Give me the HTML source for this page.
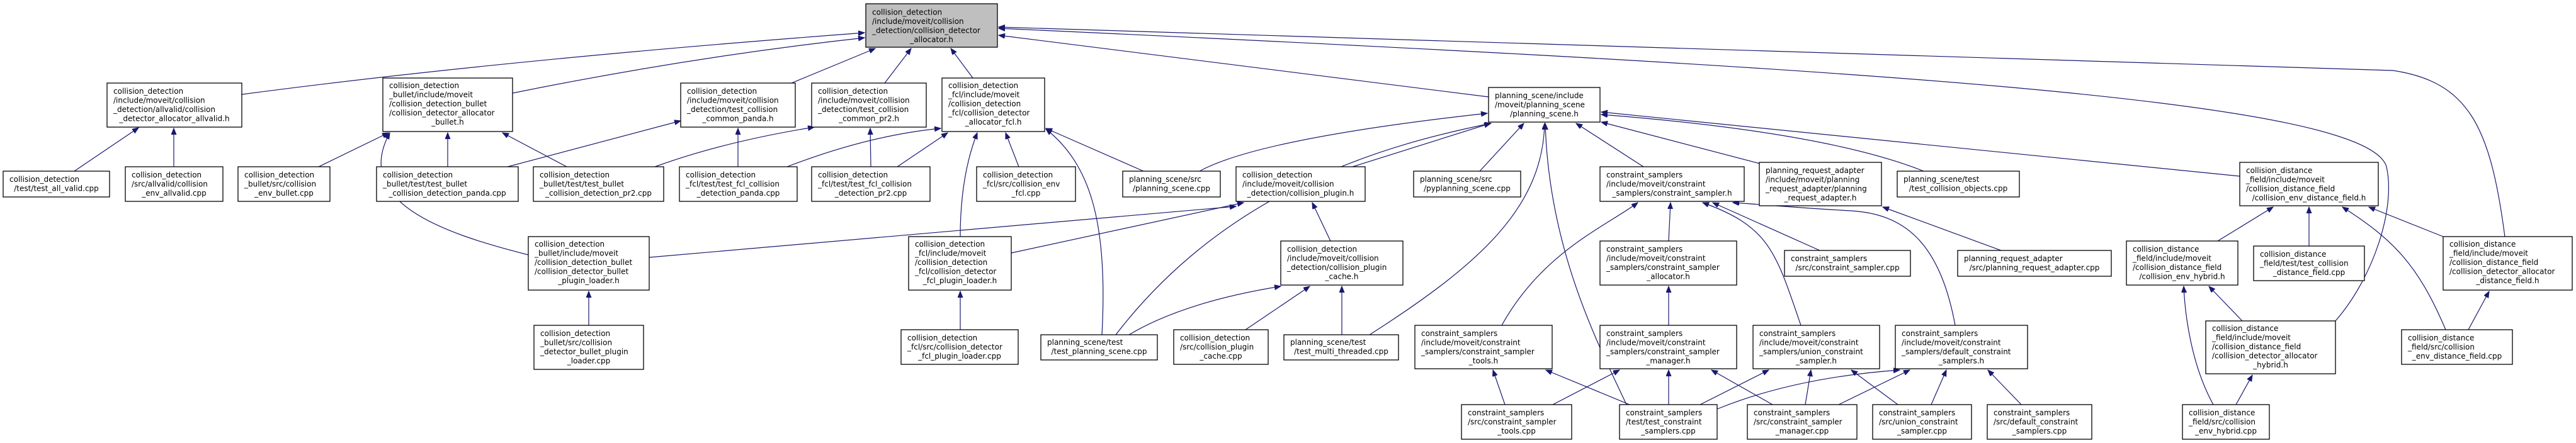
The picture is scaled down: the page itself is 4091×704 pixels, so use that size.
<!DOCTYPE html>
<html><head><meta charset="utf-8"><style>
html,body{margin:0;padding:0;background:#fff;}
svg{display:block;}
text{font-family:"DejaVu Sans","Liberation Sans",sans-serif;font-size:12px;fill:#000;text-anchor:start;}
tspan.c{text-anchor:middle;}
rect{fill:#fff;stroke:#000;stroke-width:1.3;}
path.e{fill:none;stroke:#191970;stroke-width:1.2;marker-end:url(#a);}
</style></head><body>
<svg width="4091" height="704" viewBox="0 0 4091 704" xmlns="http://www.w3.org/2000/svg">
<defs><marker id="a" markerUnits="userSpaceOnUse" markerWidth="11" markerHeight="9" refX="10" refY="4" orient="auto"><path d="M0,0 L10,4 L0,8 z" fill="#191970" stroke="#191970"/></marker></defs>
<g>
<path class="e" d="M384,150 Q800,95 1373,52"/>
<path class="e" d="M814,148 Q1100,90 1373,60"/>
<path class="e" d="M1257,132 L1390,77"/>
<path class="e" d="M1405,132 L1447,77"/>
<path class="e" d="M1545,124 L1510,77"/>
<path class="e" d="M2364,154 L1586,56"/>
<path class="e" d="M3978,376 C3955,200 3920,130 3800,112 L1586,43"/>
<path class="e" d="M3709,510 C3770,440 3805,330 3790,265 C3760,160 3000,110 1586,45"/>
<path class="e" d="M3557,280 L2543,178"/>
<path class="e" d="M3055,272 Q2900,210 2543,182"/>
<path class="e" d="M2795,260 L2543,194"/>
<path class="e" d="M2610,265 L2503,196"/>
<path class="e" d="M2350,272 L2420,196"/>
<path class="e" d="M1905,272 Q2000,220 2362,180"/>
<path class="e" d="M2148,265 L2367,196"/>
<path class="e" d="M1772,532 C1950,300 2200,230 2368,196"/>
<path class="e" d="M2175,532 C2350,420 2450,330 2453,196"/>
<path class="e" d="M2583,643 C2540,550 2460,400 2454,196"/>
<path class="e" d="M1250,265 Q1380,215 1494,204"/>
<path class="e" d="M1425,265 L1505,211"/>
<path class="e" d="M1525,376 Q1525,280 1552,211"/>
<path class="e" d="M1618,265 L1597,211"/>
<path class="e" d="M1750,532 C1760,350 1730,260 1661,205"/>
<path class="e" d="M1816,272 L1661,204"/>
<path class="e" d="M806,265 L1081,192"/>
<path class="e" d="M1172,265 L1172,204"/>
<path class="e" d="M1040,265 Q1150,225 1293,202"/>
<path class="e" d="M1383,265 L1382,204"/>
<path class="e" d="M506,265 L617,211"/>
<path class="e" d="M711,265 L711,211"/>
<path class="e" d="M900,265 L798,211"/>
<path class="e" d="M839,405 C700,370 560,320 619,211"/>
<path class="e" d="M118,272 L220,203"/>
<path class="e" d="M276,265 L276,204"/>
<path class="e" d="M1031,409 L1963,328"/>
<path class="e" d="M935,517 L935,463"/>
<path class="e" d="M1606,402 L1975,322"/>
<path class="e" d="M1525,524 L1525,463"/>
<path class="e" d="M2113,383 L2084,322"/>
<path class="e" d="M1793,532 Q1880,480 2034,455"/>
<path class="e" d="M1978,524 L2080,455"/>
<path class="e" d="M2131,532 L2131,455"/>
<path class="e" d="M2385,517 C2450,400 2550,360 2601,322"/>
<path class="e" d="M2650,383 L2653,322"/>
<path class="e" d="M2860,517 C2820,400 2810,360 2704,322"/>
<path class="e" d="M3105,517 C3080,380 3020,340 2940,335 C2850,330 2800,325 2752,322"/>
<path class="e" d="M2890,398 L2720,322"/>
<path class="e" d="M2650,517 L2650,455"/>
<path class="e" d="M2390,643 L2371,588"/>
<path class="e" d="M2588,643 L2455,588"/>
<path class="e" d="M2466,643 L2572,588"/>
<path class="e" d="M2650,643 L2650,588"/>
<path class="e" d="M2815,643 L2718,588"/>
<path class="e" d="M2700,643 L2809,588"/>
<path class="e" d="M2867,643 L2876,588"/>
<path class="e" d="M3014,643 L2940,588"/>
<path class="e" d="M2727,650 Q2850,600 3017,588"/>
<path class="e" d="M2920,643 L3033,588"/>
<path class="e" d="M3067,643 L3091,588"/>
<path class="e" d="M3210,643 L3157,588"/>
<path class="e" d="M3178,398 L2990,329"/>
<path class="e" d="M3522,383 L3610,329"/>
<path class="e" d="M3667,391 L3667,329"/>
<path class="e" d="M3880,376 L3762,329"/>
<path class="e" d="M3884,524 C3840,420 3800,380 3720,329"/>
<path class="e" d="M3920,524 L3953,463"/>
<path class="e" d="M3515,643 C3480,580 3470,500 3468,455"/>
<path class="e" d="M3561,510 L3508,455"/>
<path class="e" d="M3551,643 L3577,596"/>
</g>
<g>
<rect x="1375" y="6" width="209" height="69" style="fill:#bfbfbf"/><text x="1385" y="23.5"><tspan x="1385">collision_detection</tspan><tspan x="1385" dy="14.5">/include/moveit/collision</tspan><tspan x="1385" dy="14.5">_detection/collision_detector</tspan><tspan class="c" x="1479.5" dy="14.5">_allocator.h</tspan></text>

<rect x="170" y="132" width="214" height="70"/><text x="180" y="149"><tspan x="180">collision_detection</tspan><tspan x="180" dy="14.5">/include/moveit/collision</tspan><tspan x="180" dy="14.5">_detection/allvalid/collision</tspan><tspan class="c" x="277" dy="14.5">_detector_allocator_allvalid.h</tspan></text>

<rect x="608" y="124" width="206" height="85"/><text x="618" y="140"><tspan x="618">collision_detection</tspan><tspan x="618" dy="14.5">_bullet/include/moveit</tspan><tspan x="618" dy="14.5">/collision_detection_bullet</tspan><tspan x="618" dy="14.5">/collision_detector_allocator</tspan><tspan class="c" x="711" dy="14.5">_bullet.h</tspan></text>

<rect x="1081" y="132" width="182" height="70"/><text x="1091" y="149"><tspan x="1091">collision_detection</tspan><tspan x="1091" dy="14.5">/include/moveit/collision</tspan><tspan x="1091" dy="14.5">_detection/test_collision</tspan><tspan class="c" x="1172" dy="14.5">_common_panda.h</tspan></text>

<rect x="1289" y="132" width="182" height="70"/><text x="1299" y="149"><tspan x="1299">collision_detection</tspan><tspan x="1299" dy="14.5">/include/moveit/collision</tspan><tspan x="1299" dy="14.5">_detection/test_collision</tspan><tspan class="c" x="1380" dy="14.5">_common_pr2.h</tspan></text>

<rect x="1496" y="124" width="163" height="85"/><text x="1506" y="140"><tspan x="1506">collision_detection</tspan><tspan x="1506" dy="14.5">_fcl/include/moveit</tspan><tspan x="1506" dy="14.5">/collision_detection</tspan><tspan x="1506" dy="14.5">_fcl/collision_detector</tspan><tspan class="c" x="1577.5" dy="14.5">_allocator_fcl.h</tspan></text>

<rect x="2364" y="139" width="177" height="55"/><text x="2374" y="156"><tspan x="2374">planning_scene/include</tspan><tspan x="2374" dy="14.5">/moveit/planning_scene</tspan><tspan class="c" x="2452.5" dy="14.5">/planning_scene.h</tspan></text>

<rect x="3557" y="258" width="220" height="69"/><text x="3567" y="275"><tspan x="3567">collision_distance</tspan><tspan x="3567" dy="14.5">_field/include/moveit</tspan><tspan x="3567" dy="14.5">/collision_distance_field</tspan><tspan class="c" x="3667" dy="14.5">/collision_env_distance_field.h</tspan></text>

<rect x="5" y="272" width="169" height="41"/><text x="15" y="289"><tspan x="15">collision_detection</tspan><tspan class="c" x="89.5" dy="14.5">/test/test_all_valid.cpp</tspan></text>

<rect x="199" y="265" width="155" height="55"/><text x="209" y="282"><tspan x="209">collision_detection</tspan><tspan x="209" dy="14.5">/src/allvalid/collision</tspan><tspan class="c" x="276.5" dy="14.5">_env_allvalid.cpp</tspan></text>

<rect x="378" y="265" width="146" height="55"/><text x="388" y="282"><tspan x="388">collision_detection</tspan><tspan x="388" dy="14.5">_bullet/src/collision</tspan><tspan class="c" x="451" dy="14.5">_env_bullet.cpp</tspan></text>

<rect x="598" y="265" width="225" height="55"/><text x="608" y="282"><tspan x="608">collision_detection</tspan><tspan x="608" dy="14.5">_bullet/test/test_bullet</tspan><tspan class="c" x="710.5" dy="14.5">_collision_detection_panda.cpp</tspan></text>

<rect x="847" y="265" width="207" height="55"/><text x="857" y="282"><tspan x="857">collision_detection</tspan><tspan x="857" dy="14.5">_bullet/test/test_bullet</tspan><tspan class="c" x="950.5" dy="14.5">_collision_detection_pr2.cpp</tspan></text>

<rect x="1079" y="265" width="187" height="55"/><text x="1089" y="282"><tspan x="1089">collision_detection</tspan><tspan x="1089" dy="14.5">_fcl/test/test_fcl_collision</tspan><tspan class="c" x="1172.5" dy="14.5">_detection_panda.cpp</tspan></text>

<rect x="1289" y="265" width="188" height="55"/><text x="1299" y="282"><tspan x="1299">collision_detection</tspan><tspan x="1299" dy="14.5">_fcl/test/test_fcl_collision</tspan><tspan class="c" x="1383" dy="14.5">_detection_pr2.cpp</tspan></text>

<rect x="1551" y="265" width="157" height="55"/><text x="1561" y="282"><tspan x="1561">collision_detection</tspan><tspan x="1561" dy="14.5">_fcl/src/collision_env</tspan><tspan class="c" x="1629.5" dy="14.5">_fcl.cpp</tspan></text>

<rect x="1783" y="272" width="155" height="41"/><text x="1793" y="289"><tspan x="1793">planning_scene/src</tspan><tspan class="c" x="1860.5" dy="14.5">/planning_scene.cpp</tspan></text>

<rect x="1963" y="265" width="205" height="55"/><text x="1973" y="282"><tspan x="1973">collision_detection</tspan><tspan x="1973" dy="14.5">/include/moveit/collision</tspan><tspan class="c" x="2065.5" dy="14.5">_detection/collision_plugin.h</tspan></text>

<rect x="2245" y="272" width="170" height="41"/><text x="2255" y="289"><tspan x="2255">planning_scene/src</tspan><tspan class="c" x="2330" dy="14.5">/pyplanning_scene.cpp</tspan></text>

<rect x="2541" y="265" width="229" height="55"/><text x="2551" y="282"><tspan x="2551">constraint_samplers</tspan><tspan x="2551" dy="14.5">/include/moveit/constraint</tspan><tspan class="c" x="2655.5" dy="14.5">_samplers/constraint_sampler.h</tspan></text>

<rect x="2794" y="258" width="194" height="69"/><text x="2804" y="275"><tspan x="2804">planning_request_adapter</tspan><tspan x="2804" dy="14.5">/include/moveit/planning</tspan><tspan x="2804" dy="14.5">_request_adapter/planning</tspan><tspan class="c" x="2891" dy="14.5">_request_adapter.h</tspan></text>

<rect x="3013" y="272" width="194" height="41"/><text x="3023" y="289"><tspan x="3023">planning_scene/test</tspan><tspan class="c" x="3110" dy="14.5">/test_collision_objects.cpp</tspan></text>

<rect x="839" y="376" width="192" height="85"/><text x="849" y="392"><tspan x="849">collision_detection</tspan><tspan x="849" dy="14.5">_bullet/include/moveit</tspan><tspan x="849" dy="14.5">/collision_detection_bullet</tspan><tspan x="849" dy="14.5">/collision_detector_bullet</tspan><tspan class="c" x="935" dy="14.5">_plugin_loader.h</tspan></text>

<rect x="1443" y="376" width="163" height="85"/><text x="1453" y="392"><tspan x="1453">collision_detection</tspan><tspan x="1453" dy="14.5">_fcl/include/moveit</tspan><tspan x="1453" dy="14.5">/collision_detection</tspan><tspan x="1453" dy="14.5">_fcl/collision_detector</tspan><tspan class="c" x="1524.5" dy="14.5">_fcl_plugin_loader.h</tspan></text>

<rect x="2034" y="383" width="194" height="70"/><text x="2044" y="400"><tspan x="2044">collision_detection</tspan><tspan x="2044" dy="14.5">/include/moveit/collision</tspan><tspan x="2044" dy="14.5">_detection/collision_plugin</tspan><tspan class="c" x="2131" dy="14.5">_cache.h</tspan></text>

<rect x="2541" y="383" width="217" height="70"/><text x="2551" y="400"><tspan x="2551">constraint_samplers</tspan><tspan x="2551" dy="14.5">/include/moveit/constraint</tspan><tspan x="2551" dy="14.5">_samplers/constraint_sampler</tspan><tspan class="c" x="2649.5" dy="14.5">_allocator.h</tspan></text>

<rect x="2834" y="398" width="200" height="41"/><text x="2844" y="415"><tspan x="2844">constraint_samplers</tspan><tspan class="c" x="2934" dy="14.5">/src/constraint_sampler.cpp</tspan></text>

<rect x="3109" y="398" width="244" height="41"/><text x="3119" y="415"><tspan x="3119">planning_request_adapter</tspan><tspan class="c" x="3231" dy="14.5">/src/planning_request_adapter.cpp</tspan></text>

<rect x="3377" y="383" width="177" height="70"/><text x="3387" y="400"><tspan x="3387">collision_distance</tspan><tspan x="3387" dy="14.5">_field/include/moveit</tspan><tspan x="3387" dy="14.5">/collision_distance_field</tspan><tspan class="c" x="3465.5" dy="14.5">/collision_env_hybrid.h</tspan></text>

<rect x="3579" y="391" width="176" height="55"/><text x="3589" y="408"><tspan x="3589">collision_distance</tspan><tspan x="3589" dy="14.5">_field/test/test_collision</tspan><tspan class="c" x="3667" dy="14.5">_distance_field.cpp</tspan></text>

<rect x="3880" y="376" width="205" height="85"/><text x="3890" y="392"><tspan x="3890">collision_distance</tspan><tspan x="3890" dy="14.5">_field/include/moveit</tspan><tspan x="3890" dy="14.5">/collision_distance_field</tspan><tspan x="3890" dy="14.5">/collision_detector_allocator</tspan><tspan class="c" x="3982.5" dy="14.5">_distance_field.h</tspan></text>

<rect x="848" y="517" width="174" height="70"/><text x="858" y="534"><tspan x="858">collision_detection</tspan><tspan x="858" dy="14.5">_bullet/src/collision</tspan><tspan x="858" dy="14.5">_detector_bullet_plugin</tspan><tspan class="c" x="935" dy="14.5">_loader.cpp</tspan></text>

<rect x="1431" y="524" width="186" height="55"/><text x="1441" y="541"><tspan x="1441">collision_detection</tspan><tspan x="1441" dy="14.5">_fcl/src/collision_detector</tspan><tspan class="c" x="1524" dy="14.5">_fcl_plugin_loader.cpp</tspan></text>

<rect x="1653" y="532" width="185" height="40"/><text x="1663" y="548"><tspan x="1663">planning_scene/test</tspan><tspan class="c" x="1745.5" dy="14.5">/test_planning_scene.cpp</tspan></text>

<rect x="1864" y="524" width="150" height="55"/><text x="1874" y="541"><tspan x="1874">collision_detection</tspan><tspan x="1874" dy="14.5">/src/collision_plugin</tspan><tspan class="c" x="1939" dy="14.5">_cache.cpp</tspan></text>

<rect x="2039" y="532" width="182" height="40"/><text x="2049" y="548"><tspan x="2049">planning_scene/test</tspan><tspan class="c" x="2130" dy="14.5">/test_multi_threaded.cpp</tspan></text>

<rect x="2247" y="517" width="218" height="69"/><text x="2257" y="534"><tspan x="2257">constraint_samplers</tspan><tspan x="2257" dy="14.5">/include/moveit/constraint</tspan><tspan x="2257" dy="14.5">_samplers/constraint_sampler</tspan><tspan class="c" x="2356" dy="14.5">_tools.h</tspan></text>

<rect x="2541" y="517" width="217" height="69"/><text x="2551" y="534"><tspan x="2551">constraint_samplers</tspan><tspan x="2551" dy="14.5">/include/moveit/constraint</tspan><tspan x="2551" dy="14.5">_samplers/constraint_sampler</tspan><tspan class="c" x="2649.5" dy="14.5">_manager.h</tspan></text>

<rect x="2784" y="517" width="201" height="69"/><text x="2794" y="534"><tspan x="2794">constraint_samplers</tspan><tspan x="2794" dy="14.5">/include/moveit/constraint</tspan><tspan x="2794" dy="14.5">_samplers/union_constraint</tspan><tspan class="c" x="2884.5" dy="14.5">_sampler.h</tspan></text>

<rect x="3010" y="517" width="210" height="69"/><text x="3020" y="534"><tspan x="3020">constraint_samplers</tspan><tspan x="3020" dy="14.5">/include/moveit/constraint</tspan><tspan x="3020" dy="14.5">_samplers/default_constraint</tspan><tspan class="c" x="3115" dy="14.5">_samplers.h</tspan></text>

<rect x="3503" y="510" width="206" height="84"/><text x="3513" y="526"><tspan x="3513">collision_distance</tspan><tspan x="3513" dy="14.5">_field/include/moveit</tspan><tspan x="3513" dy="14.5">/collision_distance_field</tspan><tspan x="3513" dy="14.5">/collision_detector_allocator</tspan><tspan class="c" x="3606" dy="14.5">_hybrid.h</tspan></text>

<rect x="3814" y="524" width="176" height="55"/><text x="3824" y="541"><tspan x="3824">collision_distance</tspan><tspan x="3824" dy="14.5">_field/src/collision</tspan><tspan class="c" x="3902" dy="14.5">_env_distance_field.cpp</tspan></text>

<rect x="2321" y="643" width="175" height="55"/><text x="2331" y="660"><tspan x="2331">constraint_samplers</tspan><tspan x="2331" dy="14.5">/src/constraint_sampler</tspan><tspan class="c" x="2408.5" dy="14.5">_tools.cpp</tspan></text>

<rect x="2572" y="643" width="155" height="55"/><text x="2582" y="660"><tspan x="2582">constraint_samplers</tspan><tspan x="2582" dy="14.5">/test/test_constraint</tspan><tspan class="c" x="2649.5" dy="14.5">_samplers.cpp</tspan></text>

<rect x="2775" y="643" width="174" height="55"/><text x="2785" y="660"><tspan x="2785">constraint_samplers</tspan><tspan x="2785" dy="14.5">/src/constraint_sampler</tspan><tspan class="c" x="2862" dy="14.5">_manager.cpp</tspan></text>

<rect x="2974" y="643" width="157" height="55"/><text x="2984" y="660"><tspan x="2984">constraint_samplers</tspan><tspan x="2984" dy="14.5">/src/union_constraint</tspan><tspan class="c" x="3052.5" dy="14.5">_sampler.cpp</tspan></text>

<rect x="3156" y="643" width="166" height="55"/><text x="3166" y="660"><tspan x="3166">constraint_samplers</tspan><tspan x="3166" dy="14.5">/src/default_constraint</tspan><tspan class="c" x="3239" dy="14.5">_samplers.cpp</tspan></text>

<rect x="3466" y="643" width="138" height="55"/><text x="3476" y="660"><tspan x="3476">collision_distance</tspan><tspan x="3476" dy="14.5">_field/src/collision</tspan><tspan class="c" x="3535" dy="14.5">_env_hybrid.cpp</tspan></text>
</g>
</svg>
</body></html>
